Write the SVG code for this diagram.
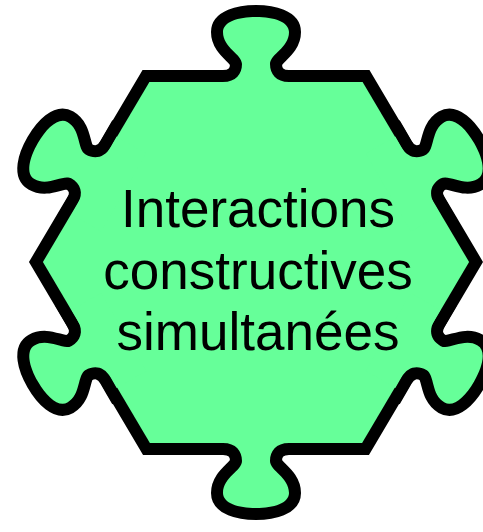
<svg xmlns="http://www.w3.org/2000/svg" xmlns:xlink="http://www.w3.org/1999/xlink" width="483" height="532" viewBox="0 0 483 532">
  <style>
    .outline { fill: #000000; stroke: #000000; stroke-width: 24; stroke-linejoin: miter; }
    .body { fill: #66ff99; stroke: none; }
    .label { font-family: "Liberation Sans", Arial, sans-serif; font-size: 53px; fill: #000000; text-anchor: middle; }
  </style>
  <defs>
    <path id="hex" d="M 149.4,82 L 362.6,82 L 469.1,262 L 362.1,443 L 149.9,443 L 42.9,262 Z"/>
    <path id="knob" d="M -45,6 L -33,6 C -20,6 -14,-2 -14,-12 C -14,-22 -33,-28 -33,-44 C -33,-54 -18,-59 0,-59 C 18,-59 33,-54 33,-44 C 33,-28 14,-22 14,-12 C 14,-2 20,6 33,6 L 45,6 L 45,40 L -45,40 Z"/>
    <g id="pieces">
      <use xlink:href="#hex" href="#hex"/>
      <use xlink:href="#knob" href="#knob" transform="translate(256,76)"/>
      <use xlink:href="#knob" href="#knob" transform="translate(423,172.5) rotate(60)"/>
      <use xlink:href="#knob" href="#knob" transform="translate(423,352) rotate(120)"/>
      <use xlink:href="#knob" href="#knob" transform="translate(256,449) rotate(180)"/>
      <use xlink:href="#knob" href="#knob" transform="translate(89,352) rotate(-120)"/>
      <use xlink:href="#knob" href="#knob" transform="translate(89,172.5) rotate(-60)"/>
    </g>
  </defs>
  <g id="node-puzzle">
    <use xlink:href="#pieces" href="#pieces" class="outline"/>
    <use xlink:href="#pieces" href="#pieces" class="body"/>
    <text class="label" x="258" y="227">Interactions</text>
    <text class="label" x="258" y="288.5">constructives</text>
    <text class="label" x="258" y="350">simultanées</text>
  </g>
  <g id="connectors"/>
</svg>
